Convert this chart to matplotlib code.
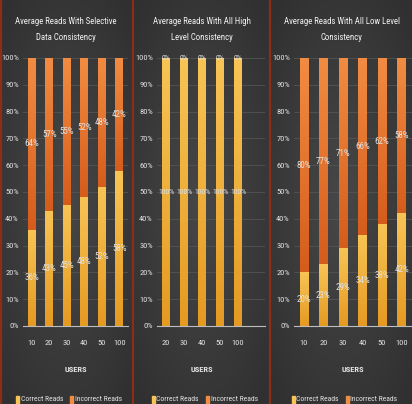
import numpy as np
import matplotlib
matplotlib.use("Agg")
import matplotlib.pyplot as plt
from matplotlib.colors import LinearSegmentedColormap
from matplotlib.patches import Rectangle

plt.rcParams['font.family'] = ['Roboto Condensed', 'Open Sans Condensed',
                               'Liberation Sans Narrow', 'Liberation Sans', 'DejaVu Sans']

# ---------------- data ----------------
titles = ["Average Reads With Selective\nData Consistency",
          "Average Reads With All High\nLevel Consistency",
          "Average Reads With All Low Level\nConsistency"]
users_1 = ["10", "20", "30", "40", "50", "100"]
correct_1 = [36, 43, 45, 48, 52, 58]
incorrect_1 = [64, 57, 55, 52, 48, 42]

users_2 = ["20", "30", "40", "50", "100"]
correct_2 = [100, 100, 100, 100, 100]
incorrect_2 = [0, 0, 0, 0, 0]

users_3 = ["10", "20", "30", "40", "50", "100"]
correct_3 = [20, 23, 29, 34, 38, 42]
incorrect_3 = [80, 77, 71, 66, 62, 58]

y_ticks = [0, 10, 20, 30, 40, 50, 60, 70, 80, 90, 100]
series_names = ["Correct Reads", "Incorrect Reads"]

# ---------------- style ----------------
W, H = 412, 404
fig = plt.figure(figsize=(W / 100, H / 100), dpi=100)
fig.patch.set_facecolor("#363636")

txt = "#e2e2e2"
c_cor_top, c_cor_bot = "#f8c455", "#e59a22"
c_inc_top, c_inc_bot = "#f28c42", "#d55d1c"
sep_color = "#8c2e16"

panels = [
    dict(px=(0, 132), ax=(23, 128), users=users_1, cor=correct_1, inc=incorrect_1, nslots=6, title=titles[0], lab=6.5),
    dict(px=(134, 269), ax=(157, 265), users=users_2, cor=correct_2, inc=incorrect_2, nslots=6, title=titles[1], lab=5.6),
    dict(px=(271, 412), ax=(294, 411.5), users=users_3, cor=correct_3, inc=incorrect_3, nslots=6, title=titles[2], lab=6.5),
]

y_bot, y_top = 326, 58


def grad_cmap(bot, top):
    return LinearSegmentedColormap.from_list("g", [bot, top])


def fill_gradient(ax, patch, cmap):
    x0, y0 = patch.get_x(), patch.get_y()
    w, h = patch.get_width(), patch.get_height()
    if h <= 0:
        return
    g = np.linspace(0, 1, 64).reshape(-1, 1)
    ax.imshow(g, extent=(x0, x0 + w, y0, y0 + h), origin="lower", cmap=cmap,
              aspect="auto", zorder=patch.get_zorder() + 0.1, interpolation="bicubic")


for p in panels:
    # panel background with a radial gradient
    bx0, bx1 = p["px"]
    bg = fig.add_axes([bx0 / W, 0, (bx1 - bx0) / W, 1])
    bg.set_zorder(-10)
    yy, xx = np.mgrid[-1:1:200j, -1:1:200j]
    r = np.sqrt((xx * 0.9) ** 2 + (yy * 1.0) ** 2)
    bgcm = LinearSegmentedColormap.from_list("bg", ["#474747", "#303030"])
    bg.imshow(np.clip(r, 0, 1.3), cmap=bgcm, aspect="auto", extent=(0, 1, 0, 1))
    bg.axis("off")

    ax0, ax1 = p["ax"]
    ax = fig.add_axes([ax0 / W, 1 - y_bot / H, (ax1 - ax0) / W, (y_bot - y_top) / H])
    ax.set_facecolor("none")
    n = len(p["users"])
    x = np.arange(n)
    bw = 0.43
    b1 = ax.bar(x, p["cor"], width=bw, color=c_cor_bot, zorder=3)
    b2 = ax.bar(x, p["inc"], width=bw, bottom=p["cor"], color=c_inc_bot, zorder=3)
    for patch in b1.patches:
        fill_gradient(ax, patch, grad_cmap(c_cor_bot, c_cor_top))
    for patch in b2.patches:
        fill_gradient(ax, patch, grad_cmap(c_inc_bot, c_inc_top))

    # data labels
    for xi, c, i in zip(x, p["cor"], p["inc"]):
        ax.text(xi, c / 2, f"{c}%", ha="center", va="center", color=txt,
                fontsize=p["lab"], zorder=6)
        ax.text(xi, c + i / 2 if i > 0 else c, f"{i}%", ha="center", va="center",
                color=txt, fontsize=p["lab"], zorder=6)

    ax.set_xlim(-0.5, p["nslots"] - 0.5)
    ax.set_ylim(0, 100)
    ax.set_yticks(y_ticks)
    ax.set_yticklabels([f"{t}%" for t in y_ticks])
    ax.set_xticks(x)
    ax.set_xticklabels(p["users"])
    ax.tick_params(axis="both", length=0, colors=txt, labelsize=6)
    ax.tick_params(axis="x", pad=10)
    ax.tick_params(axis="y", pad=3)
    ax.grid(axis="y", color="#545454", linewidth=0.6, zorder=0)
    ax.set_axisbelow(True)
    for s in ["top", "right", "left"]:
        ax.spines[s].set_visible(False)
    ax.spines["bottom"].set_color("#bdbdbd")
    ax.spines["bottom"].set_linewidth(0.8)
    ax.spines["bottom"].set_zorder(5)

    cx = (bx0 + bx1) / 2
    fig.text(cx / W, 1 - 29.5 / H, p["title"], ha="center", va="center", color="#f2f2f2",
             fontsize=6.3, linespacing=2.0)
    fig.text(((ax0 + ax1) / 2 - (9 if p is panels[1] else 0)) / W, 1 - 369 / H, "USERS",
             ha="center", va="center", color=txt, fontsize=6, fontweight="bold")

    # legend
    lx = cx - 50
    ly = 1 - 399 / H
    items = [(series_names[0], c_cor_top), (series_names[1], c_inc_top)]
    offs = [0, 54]
    for (name, col), o in zip(items, offs):
        fig.patches.append(Rectangle(((lx + o) / W, ly - 3.5 / H), 3 / W, 7 / H,
                                     transform=fig.transFigure, color=col, zorder=10))
        fig.text((lx + o + 5) / W, ly, name, ha="left", va="center", color=txt,
                 fontsize=5.5)

# separators
for sx in [1, 133, 270]:
    fig.add_artist(plt.Line2D([sx / W, sx / W], [0, 1], color=sep_color, linewidth=1.6,
                              transform=fig.transFigure, zorder=20))

fig.savefig("out.png", dpi=100, facecolor=fig.get_facecolor())
